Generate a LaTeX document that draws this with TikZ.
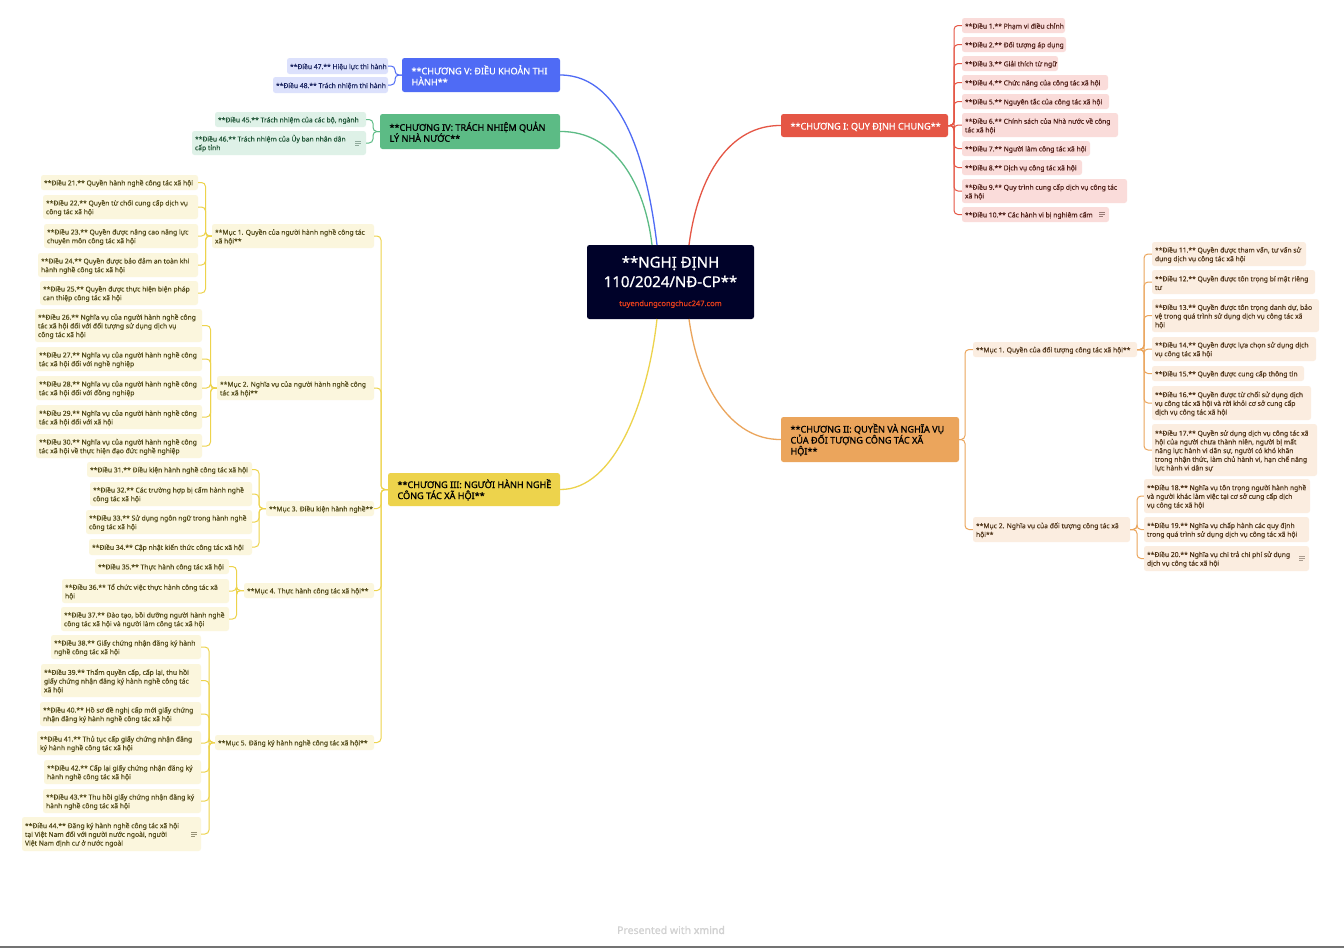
\documentclass[tikz,border=0pt]{standalone}
\usepackage{fontspec}
\setmainfont{Noto Sans}[FakeBold=0.1]
\newfontfamily\chapf{Noto Sans}[FakeBold=0.9]
\newfontfamily\logof{Noto Sans}[FakeBold=2.2]
\usetikzlibrary{calc}
\definecolor{cR}{HTML}{E55645}\definecolor{fR}{HTML}{FADCDA}\definecolor{tR}{HTML}{4F1F18}
\definecolor{cO}{HTML}{EBA55C}\definecolor{fO}{HTML}{FBEDE0}\definecolor{tO}{HTML}{50351A}
\definecolor{cY}{HTML}{EDD34C}\definecolor{fY}{HTML}{FBF6DD}\definecolor{tY}{HTML}{524A1A}
\definecolor{cG}{HTML}{5CBB85}\definecolor{fG}{HTML}{DEF1E7}\definecolor{tG}{HTML}{1F5436}
\definecolor{cB}{HTML}{4F6BF5}\definecolor{fB}{HTML}{DCE1FC}\definecolor{tB}{HTML}{1B2560}
\definecolor{navy}{HTML}{000229}\definecolor{urlc}{HTML}{E8401C}
\tikzset{
  base/.style={rounded corners=2.5pt,inner ysep=0pt},
  sub/.style={base,inner xsep=3pt,text width=\bw pt-6pt,align=none,font=\fontsize{6.75}{8.7}\selectfont,
    execute at begin node={\rightskip=-30pt plus 1fil\relax\rule{0pt}{7.3pt}}},
  subR/.style={sub,fill=fR,text=tR},subO/.style={sub,fill=fO,text=tO},subY/.style={sub,fill=fY,text=tY},
  subG/.style={sub,fill=fG,text=tG},subB/.style={sub,fill=fB,text=tB},
  chap/.style={base,inner xsep=9.5pt,text width=\bw pt-19pt,align=none,font=\chapf\fontsize{9.1}{11}\selectfont,
    execute at begin node={\rightskip=-30pt plus 1fil\relax\rule{0pt}{9.6pt}}},
  lnk/.style={line width=1pt,rounded corners=4pt},
  main/.style={line width=1.3pt},
  note/.style={line width=0.6pt}
}
\newcommand\bx[6][subR]{%
  \pgfmathsetmacro\bw{#5-#3}\pgfmathsetmacro\bh{#4-#2}%
  \path coordinate (tmp) at ({(#3+#5)/2},{(#2+#4)/2});
  \node[#1,minimum width=\bw pt,minimum height=\bh pt] (#6) at (tmp)}
\newcommand\fanR[4]{\foreach \c in {#4} \draw[lnk,#1] (#2.east) -- (#2.east -| #3) -- (\c.west -| #3) -- (\c.west);}
\newcommand\fanL[4]{\foreach \c in {#4} \draw[lnk,#1] (#2.west) -- (#2.west -| #3) -- (\c.east -| #3) -- (\c.east);}
\newcommand\noteicon[3]{\draw[note,#2] ($(#1.east)+(#3-3,-2)$) -- +(6,0) ($(#1.east)+(#3-3,0)$) -- +(6,0) ($(#1.east)+(#3-3,2)$) -- +(4,0);}
\begin{document}
\begin{tikzpicture}[x=1pt,y=-1pt]
\useasboundingbox (0,0) rectangle (1344,948);
\fill[white] (0,0) rectangle (1344,948);
\fill[gray!90!black] (0,946) rectangle (1344,948);
% spines
\coordinate (s1) at (954,0);\coordinate (s2) at (965,0);\coordinate (s2a) at (1144,0);\coordinate (s2b) at (1137,0);
\coordinate (s5) at (395,0);\coordinate (s4) at (373,0);\coordinate (s3) at (381,0);
\coordinate (s31) at (205.5,0);\coordinate (s32) at (210.5,0);\coordinate (s33) at (259,0);\coordinate (s34) at (236.5,0);\coordinate (s35) at (209,0);
% root attach points
\coordinate (rTL) at (652,245);\coordinate (rTM) at (657,245);\coordinate (rTR) at (689,245);
\coordinate (rBL) at (657,319);\coordinate (rBR) at (689,319);
% root
\bx[base,fill=navy,text=white,align=center,font=\chapf\fontsize{15}{19.5}\selectfont]{245}{587}{319}{754}{root} {**NGHỊ ĐỊNH\\110/2024/NĐ-CP**\\[-0.5pt]{\fontsize{7.5}{9}\selectfont\color{urlc}tuyendungcongchuc247.com}};
% chapters
\bx[chap,fill=cR,text=white]{114}{781}{137}{948}{c1} {**CHƯƠNG I: QUY ĐỊNH CHUNG**};
\bx[chap,fill=cO,text=black]{417}{781}{462}{959}{c2} {**CHƯƠNG II: QUYỀN VÀ NGHĨA VỤ\\CỦA ĐỐI TƯỢNG CÔNG TÁC XÃ\\HỘI**};
\bx[chap,fill=cY,text=black]{473}{388}{506}{560}{c3} {**CHƯƠNG III: NGƯỜI HÀNH NGHỀ\\CÔNG TÁC XÃ HỘI**};
\bx[chap,fill=cG,text=black]{114}{380}{149}{560}{c4} {**CHƯƠNG IV: TRÁCH NHIỆM QUẢN\\LÝ NHÀ NƯỚC**};
\bx[chap,fill=cB,text=white]{58}{402}{92}{560}{c5} {**CHƯƠNG V: ĐIỀU KHOẢN THI\\HÀNH**};
% Chapter V
\bx[subB]{58}{287}{74}{388}{d47} {**Điều 47.** Hiệu lực thi hành};
\bx[subB]{77}{273}{93}{388}{d48} {**Điều 48.** Trách nhiệm thi hành};
% Chapter IV
\bx[subG]{112}{215}{127}{366}{d45} {**Điều 45.** Trách nhiệm của các bộ, ngành};
\bx[subG]{131}{192}{155}{366}{d46} {**Điều 46.** Trách nhiệm của Ủy ban nhân dân\\cấp tỉnh};
% Chapter III
\bx[subY]{224}{212}{248}{374}{m1} {**Mục 1. Quyền của người hành nghề công tác\\xã hội**};
\bx[subY]{376}{217}{400}{374}{m2} {**Mục 2. Nghĩa vụ của người hành nghề công\\tác xã hội**};
\bx[subY]{501}{266}{516}{374}{m3} {**Mục 3. Điều kiện hành nghề**};
\bx[subY]{583}{244}{598}{374}{m4} {**Mục 4. Thực hành công tác xã hội**};
\bx[subY]{735}{215}{750}{374}{m5} {**Mục 5. Đăng ký hành nghề công tác xã hội**};
\bx[subY]{175}{41}{190}{198}{d21} {**Điều 21.** Quyền hành nghề công tác xã hội};
\bx[subY]{195}{43}{219}{198}{d22} {**Điều 22.** Quyền từ chối cung cấp dịch vụ\\công tác xã hội};
\bx[subY]{224}{44}{248}{198}{d23} {**Điều 23.** Quyền được nâng cao năng lực\\chuyên môn công tác xã hội};
\bx[subY]{253}{38}{277}{198}{d24} {**Điều 24.** Quyền được bảo đảm an toàn khi\\hành nghề công tác xã hội};
\bx[subY]{281}{40}{305}{198}{d25} {**Điều 25.** Quyền được thực hiện biện pháp\\can thiệp công tác xã hội};
\bx[subY]{309}{35}{342}{202}{d26} {**Điều 26.** Nghĩa vụ của người hành nghề công\\tác xã hội đối với đối tượng sử dụng dịch vụ\\công tác xã hội};
\bx[subY]{347}{36}{371}{202}{d27} {**Điều 27.** Nghĩa vụ của người hành nghề công\\tác xã hội đối với nghề nghiệp};
\bx[subY]{376}{36}{400}{202}{d28} {**Điều 28.** Nghĩa vụ của người hành nghề công\\tác xã hội đối với đồng nghiệp};
\bx[subY]{405}{36}{429}{202}{d29} {**Điều 29.** Nghĩa vụ của người hành nghề công\\tác xã hội đối với xã hội};
\bx[subY]{434}{36}{458}{202}{d30} {**Điều 30.** Nghĩa vụ của người hành nghề công\\tác xã hội về thực hiện đạo đức nghề nghiệp};
\bx[subY]{462}{87}{477}{252}{d31} {**Điều 31.** Điều kiện hành nghề công tác xã hội};
\bx[subY]{482}{90}{506}{252}{d32} {**Điều 32.** Các trường hợp bị cấm hành nghề\\công tác xã hội};
\bx[subY]{510}{86}{534}{252}{d33} {**Điều 33.** Sử dụng ngôn ngữ trong hành nghề\\công tác xã hội};
\bx[subY]{539}{89}{555}{252}{d34} {**Điều 34.** Cập nhật kiến thức công tác xã hội};
\bx[subY]{559}{95}{574}{229}{d35} {**Điều 35.** Thực hành công tác xã hội};
\bx[subY]{579}{62}{603}{229}{d36} {**Điều 36.** Tổ chức việc thực hành công tác xã\\hội};
\bx[subY]{607}{61}{631}{229}{d37} {**Điều 37.** Đào tạo, bồi dưỡng người hành nghề\\công tác xã hội và người làm công tác xã hội};
\bx[subY]{635}{51}{659}{201}{d38} {**Điều 38.** Giấy chứng nhận đăng ký hành\\nghề công tác xã hội};
\bx[subY]{664}{41}{697}{201}{d39} {**Điều 39.** Thẩm quyền cấp, cấp lại, thu hồi\\giấy chứng nhận đăng ký hành nghề công tác\\xã hội};
\bx[subY]{702}{40}{726}{201}{d40} {**Điều 40.** Hồ sơ đề nghị cấp mới giấy chứng\\nhận đăng ký hành nghề công tác xã hội};
\bx[subY]{731}{37}{755}{201}{d41} {**Điều 41.** Thủ tục cấp giấy chứng nhận đăng\\ký hành nghề công tác xã hội};
\bx[subY]{760}{44}{784}{201}{d42} {**Điều 42.** Cấp lại giấy chứng nhận đăng ký\\hành nghề công tác xã hội};
\bx[subY]{789}{43}{813}{201}{d43} {**Điều 43.** Thu hồi giấy chứng nhận đăng ký\\hành nghề công tác xã hội};
\bx[subY]{817}{22}{851}{201}{d44} {**Điều 44.** Đăng ký hành nghề công tác xã hội\\tại Việt Nam đối với người nước ngoài, người\\Việt Nam định cư ở nước ngoài};
% Chapter I
\bx[subR]{18}{962}{33}{1065}{d1} {**Điều 1.** Phạm vi điều chỉnh};
\bx[subR]{37}{962}{52}{1066}{d2} {**Điều 2.** Đối tượng áp dụng};
\bx[subR]{56}{962}{71}{1058}{d3} {**Điều 3.** Giải thích từ ngữ};
\bx[subR]{75}{962}{90}{1108}{d4} {**Điều 4.** Chức năng của công tác xã hội};
\bx[subR]{94}{962}{109}{1109}{d5} {**Điều 5.** Nguyên tắc của công tác xã hội};
\bx[subR]{113}{962}{137}{1118}{d6} {**Điều 6.** Chính sách của Nhà nước về công\\tác xã hội};
\bx[subR]{141}{962}{156}{1090}{d7} {**Điều 7.** Người làm công tác xã hội};
\bx[subR]{160}{962}{175}{1082}{d8} {**Điều 8.** Dịch vụ công tác xã hội};
\bx[subR]{179}{962}{203}{1127}{d9} {**Điều 9.** Quy trình cung cấp dịch vụ công tác\\xã hội};
\bx[subR]{207}{962}{222}{1109}{d10} {**Điều 10.** Các hành vi bị nghiêm cấm};
% Chapter II
\bx[subO]{342}{973}{357}{1137}{mr1} {**Mục 1. Quyền của đối tượng công tác xã hội**};
\bx[subO]{517}{973}{542}{1130}{mr2} {**Mục 2. Nghĩa vụ của đối tượng công tác xã\\hội**};
\bx[subO]{242}{1152}{266}{1306}{d11} {**Điều 11.** Quyền được tham vấn, tư vấn sử\\dụng dịch vụ công tác xã hội};
\bx[subO]{270}{1152}{294}{1315}{d12} {**Điều 12.** Quyền được tôn trọng bí mật riêng\\tư};
\bx[subO]{299}{1152}{332}{1319}{d13} {**Điều 13.** Quyền được tôn trọng danh dự, bảo\\vệ trong quá trình sử dụng dịch vụ công tác xã\\hội};
\bx[subO]{337}{1152}{361}{1316}{d14} {**Điều 14.** Quyền được lựa chọn sử dụng dịch\\vụ công tác xã hội};
\bx[subO]{366}{1152}{381}{1304}{d15} {**Điều 15.** Quyền được cung cấp thông tin};
\bx[subO]{386}{1152}{420}{1311}{d16} {**Điều 16.** Quyền được từ chối sử dụng dịch\\vụ công tác xã hội và rời khỏi cơ sở cung cấp\\dịch vụ công tác xã hội};
\bx[subO]{424}{1152}{476}{1317}{d17} {**Điều 17.** Quyền sử dụng dịch vụ công tác xã\\hội của người chưa thành niên, người bị mất\\năng lực hành vi dân sự, người có khó khăn\\trong nhận thức, làm chủ hành vi, hạn chế năng\\lực hành vi dân sự};
\bx[subO]{479}{1144}{513}{1310}{d18} {**Điều 18.** Nghĩa vụ tôn trọng người hành nghề\\và người khác làm việc tại cơ sở cung cấp dịch\\vụ công tác xã hội};
\bx[subO]{517}{1144}{542}{1309}{d19} {**Điều 19.** Nghĩa vụ chấp hành các quy định\\trong quá trình sử dụng dịch vụ công tác xã hội};
\bx[subO]{546}{1144}{571}{1309}{d20} {**Điều 20.** Nghĩa vụ chi trả chi phí sử dụng\\dịch vụ công tác xã hội};
% connectors
\draw[main,cB] (c5.east) .. controls (625,75) and (648,170) .. (rTM);
\draw[main,cG] (c4.east) .. controls (615,131) and (645,185) .. (rTL);
\draw[main,cR] (c1.west) .. controls (730,125) and (698,175) .. (rTR);
\draw[main,cY] (c3.east) .. controls (615,490) and (648,400) .. (rBL);
\draw[main,cO] (c2.west) .. controls (730,440) and (698,385) .. (rBR);
\fanR{cR}{c1}{s1}{d1,d2,d3,d4,d5,d6,d7,d8,d9,d10}
\fanR{cO}{c2}{s2}{mr1,mr2}
\fanR{cO}{mr1}{s2a}{d11,d12,d13,d14,d15,d16,d17}
\fanR{cO}{mr2}{s2b}{d18,d19,d20}
\fanL{cB}{c5}{s5}{d47,d48}
\fanL{cG}{c4}{s4}{d45,d46}
\fanL{cY}{c3}{s3}{m1,m2,m3,m4,m5}
\fanL{cY}{m1}{s31}{d21,d22,d23,d24,d25}
\fanL{cY}{m2}{s32}{d26,d27,d28,d29,d30}
\fanL{cY}{m3}{s33}{d31,d32,d33,d34}
\fanL{cY}{m4}{s34}{d35,d36,d37}
\fanL{cY}{m5}{s35}{d38,d39,d40,d41,d42,d43,d44}
% note icons
\noteicon{d46}{tG!50}{-8}
\noteicon{d44}{tY!60}{-7}
\noteicon{d10}{tR!60}{-7}
\noteicon{d20}{tO!50}{-7}
\node[font=\fontsize{10.5}{12}\selectfont,text=black!18] (foot) at (671,930) {Presented with {\logof xmind}};
\end{tikzpicture}
\end{document}
